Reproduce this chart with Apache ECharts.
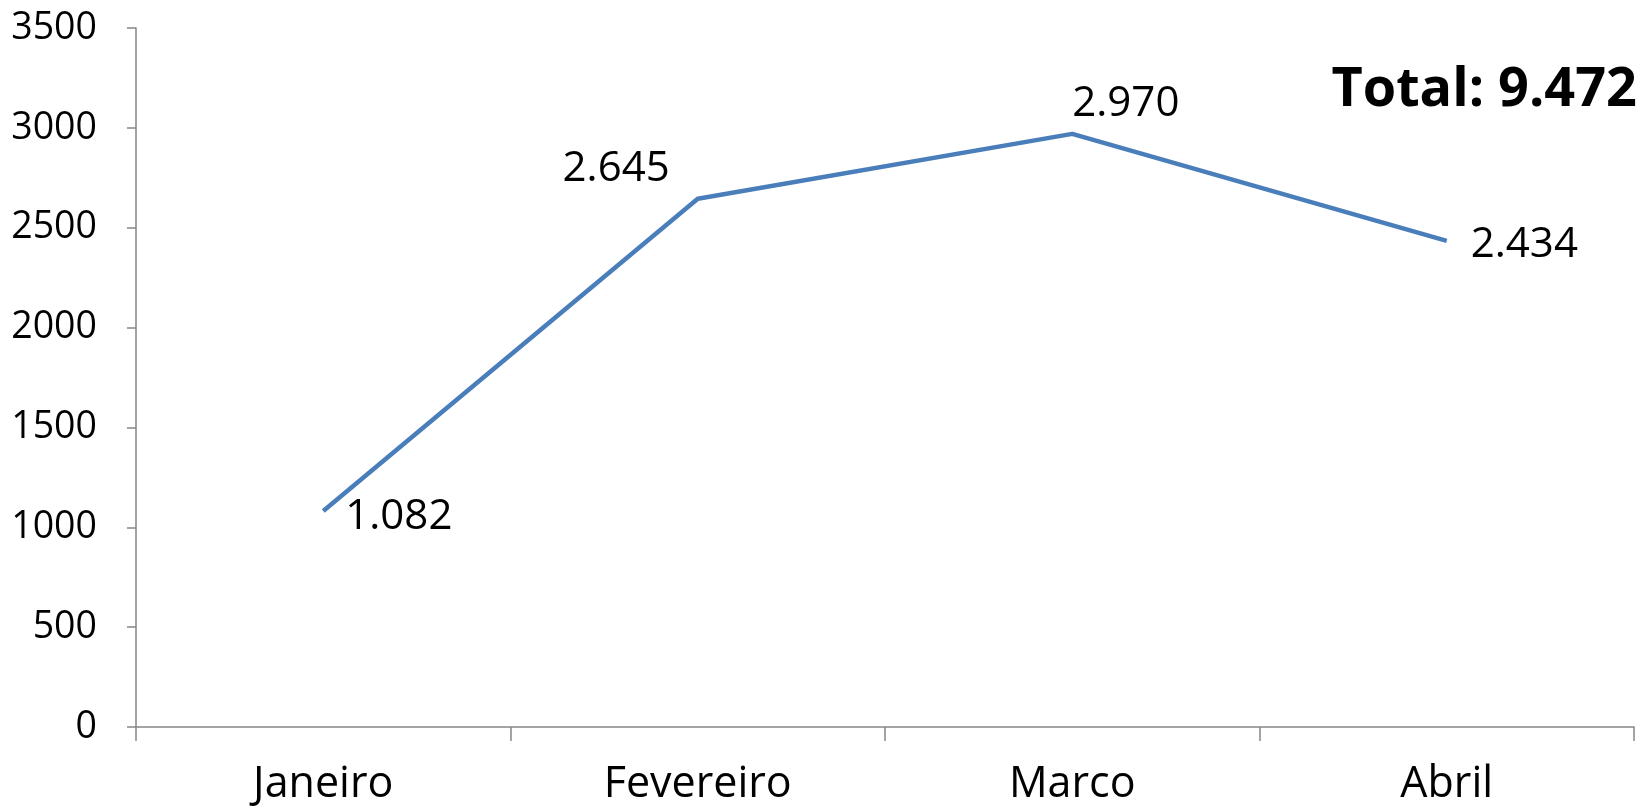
<!DOCTYPE html>
<html>
<head>
<meta charset="utf-8">
<script src="https://cdn.jsdelivr.net/npm/echarts@6/dist/echarts.min.js"></script>
<style>
html, body { margin: 0; padding: 0; background: #fff; }
#chart { width: 1645px; height: 807px; }
</style>
</head>
<body>
<div id="chart"></div>
<script>
var meses = ['Janeiro', 'Fevereiro', 'Marco', 'Abril'];
var valores = [1082, 2645, 2970, 2434];
var total = 9472;

// posicao de cada rotulo (igual ao excel)
var rotulos = [
    {position: 'right', distance: 22, offset: [0, 6]},
    {position: 'left', distance: 28, offset: [0, -30]},
    {position: 'right', distance: 0, offset: [0, -30]},
    {position: 'right', distance: 24, offset: [0, 4]}
];

function fmt(v) {
    return (v / 1000).toFixed(3);
}

var dados = valores.map(function (v, i) {
    return {value: v, label: rotulos[i]};
});

var font = '"Open Sans", "Noto Sans", sans-serif';

option = {
    animation: false,
    grid: {left: 136, right: 11, top: 28, bottom: 80, containLabel: false, outerBoundsMode: 'none'},
    xAxis: {
        type: 'category',
        data: meses,
        boundaryGap: true,
        axisLine: {lineStyle: {color: '#868686', width: 1.5}},
        axisTick: {show: true, length: 14, lineStyle: {color: '#868686', width: 1.5}},
        axisLabel: {color: '#000', fontFamily: font, fontSize: 43, margin: 36}
    },
    yAxis: {
        type: 'value',
        min: 0,
        max: 3500,
        interval: 500,
        splitLine: {show: false},
        axisLine: {show: true, lineStyle: {color: '#868686', width: 1.5}},
        axisTick: {show: true, length: 9, lineStyle: {color: '#868686', width: 1.5}},
        axisLabel: {
            color: '#000', fontFamily: font, fontSize: 37.5, margin: 39,
            formatter: function (v) { return String(v); }
        }
    },
    graphic: [{
        type: 'text',
        right: 8,
        top: 64,
        style: {
            text: 'Total: ' + fmt(total),
            font: 'bold 54px ' + font,
            fill: '#000'
        }
    }],
    series: [{
        type: 'line',
        data: dados,
        showSymbol: true,
        symbol: 'circle',
        symbolSize: 0.1,
        itemStyle: {color: '#4A7EBB'},
        lineStyle: {color: '#4A7EBB', width: 4.5},
        label: {
            show: true,
            color: '#000',
            fontFamily: font,
            fontSize: 42,
            formatter: function (p) { return fmt(p.value); }
        }
    }]
};

var myChart = echarts.init(document.getElementById('chart'));
myChart.setOption(option);
</script>
</body>
</html>
